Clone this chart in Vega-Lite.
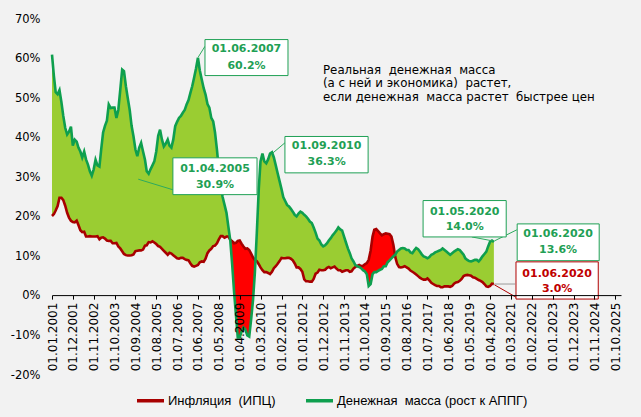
{
  "$schema": "https://vega.github.io/schema/vega-lite/v6.json",
  "width": 569,
  "height": 356,
  "autosize": {"type": "none"},
  "padding": {"left": 52, "top": 19, "right": 20, "bottom": 42},
  "background": "#F2F2F2",
  "config": {
    "view": {"stroke": null},
    "font": "DejaVu Sans",
    "axis": {"labelOverlap": false, "labelFlush": false, "grid": false, "labelColor": "#000000"},
    "axisX": {"labelAngle": -90, "labelFontSize": 12, "tickSize": 4, "tickColor": "#000000", "domainColor": "#000000", "labelPadding": 3},
    "axisY": {"labelFontSize": 11.5, "ticks": false, "domain": false, "labelPadding": 12}
  },
  "datasets": {
    "series": [
      {"date": "2001-01-01", "infl": 20.2, "money": 61.0},
      {"date": "2001-02-01", "infl": 20.7, "money": 55.5},
      {"date": "2001-03-01", "infl": 21.6, "money": 51.5},
      {"date": "2001-04-01", "infl": 22.7, "money": 51.0},
      {"date": "2001-05-01", "infl": 24.8, "money": 52.0},
      {"date": "2001-06-01", "infl": 24.8, "money": 49.0},
      {"date": "2001-07-01", "infl": 24.2, "money": 45.5},
      {"date": "2001-08-01", "infl": 22.8, "money": 42.5},
      {"date": "2001-09-01", "infl": 21.0, "money": 40.8},
      {"date": "2001-10-01", "infl": 19.8, "money": 41.5},
      {"date": "2001-11-01", "infl": 19.0, "money": 42.8},
      {"date": "2001-12-01", "infl": 18.7, "money": 38.0},
      {"date": "2002-01-01", "infl": 18.6, "money": 39.5},
      {"date": "2002-02-01", "infl": 19.0, "money": 39.0},
      {"date": "2002-03-01", "infl": 17.9, "money": 37.5},
      {"date": "2002-04-01", "infl": 16.6, "money": 36.5},
      {"date": "2002-05-01", "infl": 16.1, "money": 35.0},
      {"date": "2002-06-01", "infl": 16.2, "money": 36.5},
      {"date": "2002-07-01", "infl": 15.0, "money": 34.5},
      {"date": "2002-08-01", "infl": 15.0, "money": 33.2},
      {"date": "2002-09-01", "infl": 15.1, "money": 31.5},
      {"date": "2002-10-01", "infl": 15.0, "money": 30.4},
      {"date": "2002-11-01", "infl": 15.0, "money": 32.0},
      {"date": "2002-12-01", "infl": 15.0, "money": 34.4},
      {"date": "2003-01-01", "infl": 15.1, "money": 33.0},
      {"date": "2003-02-01", "infl": 14.3, "money": 32.7},
      {"date": "2003-03-01", "infl": 14.7, "money": 37.0},
      {"date": "2003-04-01", "infl": 14.8, "money": 41.3},
      {"date": "2003-05-01", "infl": 14.5, "money": 43.0},
      {"date": "2003-06-01", "infl": 14.0, "money": 44.3},
      {"date": "2003-07-01", "infl": 13.9, "money": 48.4},
      {"date": "2003-08-01", "infl": 13.9, "money": 47.5},
      {"date": "2003-09-01", "infl": 13.3, "money": 47.6},
      {"date": "2003-10-01", "infl": 13.3, "money": 47.6},
      {"date": "2003-11-01", "infl": 13.4, "money": 45.0},
      {"date": "2003-12-01", "infl": 12.5, "money": 47.0},
      {"date": "2004-01-01", "infl": 12.0, "money": 52.0},
      {"date": "2004-02-01", "infl": 11.3, "money": 57.2},
      {"date": "2004-03-01", "infl": 10.6, "money": 56.8},
      {"date": "2004-04-01", "infl": 10.3, "money": 53.0},
      {"date": "2004-05-01", "infl": 10.2, "money": 50.0},
      {"date": "2004-06-01", "infl": 10.2, "money": 47.0},
      {"date": "2004-07-01", "infl": 10.3, "money": 43.0},
      {"date": "2004-08-01", "infl": 10.5, "money": 40.3},
      {"date": "2004-09-01", "infl": 11.3, "money": 37.0},
      {"date": "2004-10-01", "infl": 11.4, "money": 35.3},
      {"date": "2004-11-01", "infl": 11.5, "money": 37.5},
      {"date": "2004-12-01", "infl": 11.5, "money": 38.7},
      {"date": "2005-01-01", "infl": 11.7, "money": 36.5},
      {"date": "2005-02-01", "infl": 12.7, "money": 34.4},
      {"date": "2005-03-01", "infl": 12.8, "money": 31.5},
      {"date": "2005-04-01", "infl": 13.6, "money": 30.9},
      {"date": "2005-05-01", "infl": 13.5, "money": 32.0},
      {"date": "2005-06-01", "infl": 13.8, "money": 33.0},
      {"date": "2005-07-01", "infl": 13.5, "money": 34.0},
      {"date": "2005-08-01", "infl": 13.1, "money": 36.5},
      {"date": "2005-09-01", "infl": 12.6, "money": 40.5},
      {"date": "2005-10-01", "infl": 12.4, "money": 42.0},
      {"date": "2005-11-01", "infl": 11.9, "money": 39.5},
      {"date": "2005-12-01", "infl": 11.4, "money": 37.8},
      {"date": "2006-01-01", "infl": 10.9, "money": 38.5},
      {"date": "2006-02-01", "infl": 10.4, "money": 39.5},
      {"date": "2006-03-01", "infl": 10.9, "money": 38.0},
      {"date": "2006-04-01", "infl": 10.7, "money": 37.5},
      {"date": "2006-05-01", "infl": 10.3, "money": 39.5},
      {"date": "2006-06-01", "infl": 9.9, "money": 42.9},
      {"date": "2006-07-01", "infl": 9.5, "money": 44.0},
      {"date": "2006-08-01", "infl": 9.4, "money": 45.0},
      {"date": "2006-09-01", "infl": 9.6, "money": 45.5},
      {"date": "2006-10-01", "infl": 9.6, "money": 46.3},
      {"date": "2006-11-01", "infl": 9.3, "money": 47.0},
      {"date": "2006-12-01", "infl": 9.1, "money": 48.4},
      {"date": "2007-01-01", "infl": 9.0, "money": 49.5},
      {"date": "2007-02-01", "infl": 8.2, "money": 51.4},
      {"date": "2007-03-01", "infl": 7.6, "money": 53.0},
      {"date": "2007-04-01", "infl": 7.4, "money": 55.2},
      {"date": "2007-05-01", "infl": 7.6, "money": 57.5},
      {"date": "2007-06-01", "infl": 7.8, "money": 60.2},
      {"date": "2007-07-01", "infl": 8.5, "money": 57.0},
      {"date": "2007-08-01", "infl": 8.7, "money": 54.7},
      {"date": "2007-09-01", "infl": 8.6, "money": 52.5},
      {"date": "2007-10-01", "infl": 9.4, "money": 50.9},
      {"date": "2007-11-01", "infl": 10.8, "money": 48.5},
      {"date": "2007-12-01", "infl": 11.5, "money": 47.6},
      {"date": "2008-01-01", "infl": 11.9, "money": 45.0},
      {"date": "2008-02-01", "infl": 12.6, "money": 44.1},
      {"date": "2008-03-01", "infl": 12.7, "money": 41.3},
      {"date": "2008-04-01", "infl": 13.3, "money": 37.0},
      {"date": "2008-05-01", "infl": 14.3, "money": 32.0},
      {"date": "2008-06-01", "infl": 15.1, "money": 28.0},
      {"date": "2008-07-01", "infl": 15.1, "money": 25.0},
      {"date": "2008-08-01", "infl": 14.7, "money": 23.0},
      {"date": "2008-09-01", "infl": 15.0, "money": 21.0},
      {"date": "2008-10-01", "infl": 15.0, "money": 17.5},
      {"date": "2008-11-01", "infl": 14.2, "money": 14.0},
      {"date": "2008-12-01", "infl": 13.8, "money": 8.0},
      {"date": "2009-01-01", "infl": 13.3, "money": 1.0},
      {"date": "2009-02-01", "infl": 13.4, "money": -5.0},
      {"date": "2009-03-01", "infl": 13.9, "money": -10.5},
      {"date": "2009-04-01", "infl": 14.0, "money": -10.5},
      {"date": "2009-05-01", "infl": 13.2, "money": -9.0},
      {"date": "2009-06-01", "infl": 12.5, "money": -8.0},
      {"date": "2009-07-01", "infl": 11.9, "money": -8.5},
      {"date": "2009-08-01", "infl": 12.0, "money": -10.0},
      {"date": "2009-09-01", "infl": 11.6, "money": -10.3},
      {"date": "2009-10-01", "infl": 10.7, "money": -6.0},
      {"date": "2009-11-01", "infl": 9.7, "money": -1.0},
      {"date": "2009-12-01", "infl": 9.1, "money": 6.0},
      {"date": "2010-01-01", "infl": 8.8, "money": 16.0},
      {"date": "2010-02-01", "infl": 8.0, "money": 27.0},
      {"date": "2010-03-01", "infl": 7.2, "money": 34.0},
      {"date": "2010-04-01", "infl": 6.5, "money": 36.0},
      {"date": "2010-05-01", "infl": 6.0, "money": 34.0},
      {"date": "2010-06-01", "infl": 6.0, "money": 33.5},
      {"date": "2010-07-01", "infl": 5.8, "money": 34.5},
      {"date": "2010-08-01", "infl": 5.5, "money": 36.0},
      {"date": "2010-09-01", "infl": 6.1, "money": 36.3},
      {"date": "2010-10-01", "infl": 7.0, "money": 35.0},
      {"date": "2010-11-01", "infl": 7.5, "money": 33.0},
      {"date": "2010-12-01", "infl": 8.1, "money": 31.0},
      {"date": "2011-01-01", "infl": 8.8, "money": 29.0},
      {"date": "2011-02-01", "infl": 9.6, "money": 27.0},
      {"date": "2011-03-01", "infl": 9.5, "money": 25.0},
      {"date": "2011-04-01", "infl": 9.5, "money": 24.0},
      {"date": "2011-05-01", "infl": 9.6, "money": 23.0},
      {"date": "2011-06-01", "infl": 9.6, "money": 22.6},
      {"date": "2011-07-01", "infl": 9.4, "money": 22.0},
      {"date": "2011-08-01", "infl": 9.0, "money": 21.3},
      {"date": "2011-09-01", "infl": 8.2, "money": 20.5},
      {"date": "2011-10-01", "infl": 7.2, "money": 20.1},
      {"date": "2011-11-01", "infl": 7.2, "money": 20.8},
      {"date": "2011-12-01", "infl": 6.8, "money": 21.3},
      {"date": "2012-01-01", "infl": 6.1, "money": 21.0},
      {"date": "2012-02-01", "infl": 4.2, "money": 20.5},
      {"date": "2012-03-01", "infl": 3.7, "money": 20.1},
      {"date": "2012-04-01", "infl": 3.7, "money": 19.5},
      {"date": "2012-05-01", "infl": 3.6, "money": 18.8},
      {"date": "2012-06-01", "infl": 3.6, "money": 18.4},
      {"date": "2012-07-01", "infl": 4.3, "money": 17.3},
      {"date": "2012-08-01", "infl": 5.6, "money": 16.0},
      {"date": "2012-09-01", "infl": 5.9, "money": 14.5},
      {"date": "2012-10-01", "infl": 6.6, "money": 14.0},
      {"date": "2012-11-01", "infl": 6.5, "money": 13.0},
      {"date": "2012-12-01", "infl": 6.5, "money": 12.5},
      {"date": "2013-01-01", "infl": 6.6, "money": 12.8},
      {"date": "2013-02-01", "infl": 7.1, "money": 13.3},
      {"date": "2013-03-01", "infl": 7.3, "money": 14.0},
      {"date": "2013-04-01", "infl": 7.0, "money": 14.6},
      {"date": "2013-05-01", "infl": 7.2, "money": 15.3},
      {"date": "2013-06-01", "infl": 7.4, "money": 15.9},
      {"date": "2013-07-01", "infl": 6.9, "money": 16.5},
      {"date": "2013-08-01", "infl": 6.5, "money": 17.3},
      {"date": "2013-09-01", "infl": 6.5, "money": 16.8},
      {"date": "2013-10-01", "infl": 6.1, "money": 16.5},
      {"date": "2013-11-01", "infl": 6.3, "money": 15.0},
      {"date": "2013-12-01", "infl": 6.5, "money": 13.5},
      {"date": "2014-01-01", "infl": 6.5, "money": 12.0},
      {"date": "2014-02-01", "infl": 6.1, "money": 10.8},
      {"date": "2014-03-01", "infl": 6.2, "money": 9.5},
      {"date": "2014-04-01", "infl": 6.9, "money": 8.7},
      {"date": "2014-05-01", "infl": 7.3, "money": 7.8},
      {"date": "2014-06-01", "infl": 7.6, "money": 7.5},
      {"date": "2014-07-01", "infl": 7.8, "money": 7.3},
      {"date": "2014-08-01", "infl": 7.5, "money": 7.0},
      {"date": "2014-09-01", "infl": 7.6, "money": 6.5},
      {"date": "2014-10-01", "infl": 8.0, "money": 6.2},
      {"date": "2014-11-01", "infl": 8.3, "money": 5.5},
      {"date": "2014-12-01", "infl": 9.1, "money": 2.5},
      {"date": "2015-01-01", "infl": 11.4, "money": 3.0},
      {"date": "2015-02-01", "infl": 15.0, "money": 5.5},
      {"date": "2015-03-01", "infl": 16.7, "money": 6.0},
      {"date": "2015-04-01", "infl": 16.9, "money": 6.0},
      {"date": "2015-05-01", "infl": 16.4, "money": 6.3},
      {"date": "2015-06-01", "infl": 15.8, "money": 6.6},
      {"date": "2015-07-01", "infl": 15.3, "money": 6.8},
      {"date": "2015-08-01", "infl": 15.6, "money": 7.5},
      {"date": "2015-09-01", "infl": 15.8, "money": 7.5},
      {"date": "2015-10-01", "infl": 15.7, "money": 8.5},
      {"date": "2015-11-01", "infl": 15.6, "money": 9.0},
      {"date": "2015-12-01", "infl": 15.0, "money": 9.5},
      {"date": "2016-01-01", "infl": 12.9, "money": 10.0},
      {"date": "2016-02-01", "infl": 9.8, "money": 10.4},
      {"date": "2016-03-01", "infl": 8.1, "money": 11.2},
      {"date": "2016-04-01", "infl": 7.3, "money": 11.6},
      {"date": "2016-05-01", "infl": 7.2, "money": 12.0},
      {"date": "2016-06-01", "infl": 7.3, "money": 12.1},
      {"date": "2016-07-01", "infl": 7.5, "money": 12.0},
      {"date": "2016-08-01", "infl": 7.2, "money": 11.6},
      {"date": "2016-09-01", "infl": 6.9, "money": 11.6},
      {"date": "2016-10-01", "infl": 6.4, "money": 11.0},
      {"date": "2016-11-01", "infl": 6.1, "money": 10.8},
      {"date": "2016-12-01", "infl": 5.8, "money": 11.5},
      {"date": "2017-01-01", "infl": 5.4, "money": 12.1},
      {"date": "2017-02-01", "infl": 5.0, "money": 11.8},
      {"date": "2017-03-01", "infl": 4.6, "money": 11.2},
      {"date": "2017-04-01", "infl": 4.3, "money": 10.5},
      {"date": "2017-05-01", "infl": 4.1, "money": 10.0},
      {"date": "2017-06-01", "infl": 4.1, "money": 9.8},
      {"date": "2017-07-01", "infl": 4.4, "money": 9.5},
      {"date": "2017-08-01", "infl": 3.9, "money": 9.8},
      {"date": "2017-09-01", "infl": 3.3, "money": 10.4},
      {"date": "2017-10-01", "infl": 3.0, "money": 10.6},
      {"date": "2017-11-01", "infl": 2.7, "money": 11.0},
      {"date": "2017-12-01", "infl": 2.5, "money": 11.2},
      {"date": "2018-01-01", "infl": 2.5, "money": 11.4},
      {"date": "2018-02-01", "infl": 2.2, "money": 11.6},
      {"date": "2018-03-01", "infl": 2.2, "money": 12.0},
      {"date": "2018-04-01", "infl": 2.4, "money": 11.6},
      {"date": "2018-05-01", "infl": 2.4, "money": 11.2},
      {"date": "2018-06-01", "infl": 2.4, "money": 10.8},
      {"date": "2018-07-01", "infl": 2.3, "money": 10.4},
      {"date": "2018-08-01", "infl": 2.5, "money": 10.8},
      {"date": "2018-09-01", "infl": 3.1, "money": 11.2},
      {"date": "2018-10-01", "infl": 3.4, "money": 11.5},
      {"date": "2018-11-01", "infl": 3.5, "money": 11.8},
      {"date": "2018-12-01", "infl": 3.8, "money": 11.6},
      {"date": "2019-01-01", "infl": 4.3, "money": 11.0},
      {"date": "2019-02-01", "infl": 5.0, "money": 10.4},
      {"date": "2019-03-01", "infl": 5.2, "money": 9.5},
      {"date": "2019-04-01", "infl": 5.3, "money": 9.1},
      {"date": "2019-05-01", "infl": 5.2, "money": 8.8},
      {"date": "2019-06-01", "infl": 5.1, "money": 8.7},
      {"date": "2019-07-01", "infl": 4.7, "money": 8.9},
      {"date": "2019-08-01", "infl": 4.6, "money": 9.1},
      {"date": "2019-09-01", "infl": 4.3, "money": 9.1},
      {"date": "2019-10-01", "infl": 4.0, "money": 8.7},
      {"date": "2019-11-01", "infl": 3.8, "money": 9.3},
      {"date": "2019-12-01", "infl": 3.5, "money": 10.0},
      {"date": "2020-01-01", "infl": 3.0, "money": 10.6},
      {"date": "2020-02-01", "infl": 2.4, "money": 11.2},
      {"date": "2020-03-01", "infl": 2.3, "money": 12.5},
      {"date": "2020-04-01", "infl": 2.5, "money": 13.7},
      {"date": "2020-05-01", "infl": 3.1, "money": 14.0},
      {"date": "2020-06-01", "infl": 3.0, "money": 13.6}
    ],
    "boxes": [
      {"d1": "2007-09-22", "d2": "2011-05-16", "v1": 64.8, "v2": 55.7, "kind": "money"},
      {"d1": "2006-04-25", "d2": "2010-01-04", "v1": 34.9, "v2": 25.6, "kind": "money"},
      {"d1": "2011-03-28", "d2": "2014-11-22", "v1": 40.3, "v2": 31.1, "kind": "money"},
      {"d1": "2017-04-22", "d2": "2020-12-16", "v1": 24.1, "v2": 14.9, "kind": "money"},
      {"d1": "2021-06-10", "d2": "2025-01-16", "v1": 18.2, "v2": 8.9, "kind": "money"},
      {"d1": "2021-05-22", "d2": "2025-01-01", "v1": 8.6, "v2": -0.8, "kind": "infl"}
    ],
    "leaders": [
      {"d1": "2007-06-07", "d2": "2007-09-22", "v1": 60.4, "v2": 63.1, "kind": "money"},
      {"d1": "2004-10-16", "d2": "2006-05-01", "v1": 29.5, "v2": 26.8, "kind": "money"},
      {"d1": "2010-09-13", "d2": "2011-03-28", "v1": 36.1, "v2": 38.7, "kind": "money"},
      {"d1": "2019-06-13", "d2": "2020-05-13", "v1": 14.9, "v2": 13.9, "kind": "money"},
      {"d1": "2020-06-10", "d2": "2021-06-04", "v1": 13.9, "v2": 16.7, "kind": "money"},
      {"d1": "2020-06-10", "d2": "2021-05-07", "v1": 3.0, "v2": 3.0, "kind": "grey"},
      {"d1": "2020-06-10", "d2": "2021-06-10", "v1": 2.8, "v2": -0.5, "kind": "infl"}
    ],
    "labels": [
      {"date": "2009-07-19", "v": 62.3, "text": "01.06.2007", "kind": "money"},
      {"date": "2009-07-19", "v": 58.1, "text": "60.2%", "kind": "money"},
      {"date": "2008-03-01", "v": 32.1, "text": "01.04.2005", "kind": "money"},
      {"date": "2008-03-01", "v": 28.1, "text": "30.9%", "kind": "money"},
      {"date": "2013-01-25", "v": 37.8, "text": "01.09.2010", "kind": "money"},
      {"date": "2013-01-25", "v": 33.8, "text": "36.3%", "kind": "money"},
      {"date": "2019-02-19", "v": 21.3, "text": "01.05.2020", "kind": "money"},
      {"date": "2019-02-19", "v": 17.3, "text": "14.0%", "kind": "money"},
      {"date": "2023-03-28", "v": 15.6, "text": "01.06.2020", "kind": "money"},
      {"date": "2023-03-28", "v": 11.6, "text": "13.6%", "kind": "money"},
      {"date": "2023-03-13", "v": 5.6, "text": "01.06.2020", "kind": "infl"},
      {"date": "2023-03-13", "v": 1.7, "text": "3.0%", "kind": "infl"}
    ],
    "note": [
      {"date": "2012-11-28", "v": 57.0, "text": "Реальная\u00a0 денежная\u00a0 масса"},
      {"date": "2012-11-28", "v": 53.8, "text": "(а с ней и экономика)\u00a0 растет,"},
      {"date": "2012-11-28", "v": 50.4, "text": "если денежная\u00a0 масса растет\u00a0 быстрее цен"}
    ]
  },
  "layer": [
    {
      "data": {"name": "series"},
      "transform": [
        {"fold": ["infl", "money"], "as": ["key", "val"]},
        {"joinaggregate": [{"op": "max", "field": "val", "as": "top"}], "groupby": ["date"]},
        {"filter": "datum.key === 'infl'"}
      ],
      "mark": {"type": "area", "color": "#9ACD32", "opacity": 1},
      "encoding": {
        "x": {
          "field": "date",
          "type": "temporal",
          "title": null,
          "scale": {
            "type": "utc",
            "domain": [
              {"year": 2001, "month": 1, "date": 1, "utc": true},
              {"year": 2026, "month": 1, "date": 1, "utc": true}
            ]
          },
          "axis": {
            "values": [
              {"year": 2001, "month": 1, "date": 1, "utc": true},
              {"year": 2001, "month": 12, "date": 1, "utc": true},
              {"year": 2002, "month": 11, "date": 1, "utc": true},
              {"year": 2003, "month": 10, "date": 1, "utc": true},
              {"year": 2004, "month": 9, "date": 1, "utc": true},
              {"year": 2005, "month": 8, "date": 1, "utc": true},
              {"year": 2006, "month": 7, "date": 1, "utc": true},
              {"year": 2007, "month": 6, "date": 1, "utc": true},
              {"year": 2008, "month": 5, "date": 1, "utc": true},
              {"year": 2009, "month": 4, "date": 1, "utc": true},
              {"year": 2010, "month": 3, "date": 1, "utc": true},
              {"year": 2011, "month": 2, "date": 1, "utc": true},
              {"year": 2012, "month": 1, "date": 1, "utc": true},
              {"year": 2012, "month": 12, "date": 1, "utc": true},
              {"year": 2013, "month": 11, "date": 1, "utc": true},
              {"year": 2014, "month": 10, "date": 1, "utc": true},
              {"year": 2015, "month": 9, "date": 1, "utc": true},
              {"year": 2016, "month": 8, "date": 1, "utc": true},
              {"year": 2017, "month": 7, "date": 1, "utc": true},
              {"year": 2018, "month": 6, "date": 1, "utc": true},
              {"year": 2019, "month": 5, "date": 1, "utc": true},
              {"year": 2020, "month": 4, "date": 1, "utc": true},
              {"year": 2021, "month": 3, "date": 1, "utc": true},
              {"year": 2022, "month": 2, "date": 1, "utc": true},
              {"year": 2023, "month": 1, "date": 1, "utc": true},
              {"year": 2023, "month": 12, "date": 1, "utc": true},
              {"year": 2024, "month": 11, "date": 1, "utc": true},
              {"year": 2025, "month": 10, "date": 1, "utc": true}
            ],
            "tickCount": 100,
            "labelExpr": "utcFormat(datum.value, '%d.%m.%Y')",
            "labelOverlap": false,
            "labelBound": false,
            "offset": -79.9,
            "zindex": 1
          }
        },
        "y": {
          "field": "top",
          "type": "quantitative",
          "title": null,
          "scale": {"domain": [-20, 70], "nice": false, "zero": false},
          "axis": {
            "values": [-20, -10, 0, 10, 20, 30, 40, 50, 60, 70],
            "tickCount": 100,
            "labelExpr": "datum.value + '%'",
            "labelOverlap": false
          }
        },
        "y2": {"field": "val"}
      }
    },
    {
      "data": {"name": "series"},
      "transform": [
        {"fold": ["infl", "money"], "as": ["key", "val"]},
        {"joinaggregate": [{"op": "max", "field": "val", "as": "top"}], "groupby": ["date"]},
        {"filter": "datum.key === 'money'"}
      ],
      "mark": {"type": "area", "color": "#FF0000", "opacity": 1},
      "encoding": {
        "x": {"field": "date", "type": "temporal", "title": null},
        "y": {"field": "top", "type": "quantitative", "title": null},
        "y2": {"field": "val"}
      }
    },
    {
      "data": {"name": "series"},
      "transform": [{"fold": ["infl", "money"], "as": ["key", "val"]}],
      "mark": {"type": "line", "strokeWidth": 2.6},
      "encoding": {
        "x": {"field": "date", "type": "temporal", "title": null},
        "y": {"field": "val", "type": "quantitative", "title": null},
        "color": {
          "field": "key",
          "type": "nominal",
          "scale": {"domain": ["infl", "money"], "range": ["#A80000", "#0E9F4E"]},
          "legend": {
            "title": null,
            "orient": "none",
            "direction": "horizontal",
            "legendX": 83,
            "legendY": 366,
            "symbolType": "stroke",
            "symbolSize": 729,
            "symbolStrokeWidth": 3.5,
            "labelFont": "Liberation Sans",
            "labelFontSize": 13,
            "labelColor": "#000000",
            "labelOffset": 2,
            "labelLimit": 400,
            "columnPadding": 23,
            "labelExpr": "datum.label === 'infl' ? 'Инфляция\u00a0 (ИПЦ)' : 'Денежная\u00a0 масса (рост к АППГ)'"
          }
        }
      }
    },
    {
      "data": {"name": "leaders"},
      "mark": {"type": "rule", "strokeWidth": 1},
      "encoding": {
        "x": {"field": "d1", "type": "temporal", "title": null},
        "x2": {"field": "d2"},
        "y": {"field": "v1", "type": "quantitative", "title": null},
        "y2": {"field": "v2"},
        "color": {
          "condition": [
            {"test": "datum.kind === 'infl'", "value": "#B00000"},
            {"test": "datum.kind === 'grey'", "value": "#999999"}
          ],
          "value": "#2DAA5E"
        }
      }
    },
    {
      "data": {"name": "boxes"},
      "mark": {"type": "rect", "fill": "#FFFFFF", "strokeWidth": 1},
      "encoding": {
        "x": {"field": "d1", "type": "temporal", "title": null},
        "x2": {"field": "d2"},
        "y": {"field": "v1", "type": "quantitative", "title": null},
        "y2": {"field": "v2"},
        "stroke": {
          "condition": {"test": "datum.kind === 'infl'", "value": "#B00000"},
          "value": "#1FA055"
        }
      }
    },
    {
      "data": {"name": "labels"},
      "mark": {"type": "text", "font": "DejaVu Sans", "fontSize": 11, "fontWeight": "bold", "align": "center", "baseline": "middle"},
      "encoding": {
        "x": {"field": "date", "type": "temporal", "title": null},
        "y": {"field": "v", "type": "quantitative", "title": null},
        "text": {"field": "text"},
        "color": {
          "condition": {"test": "datum.kind === 'infl'", "value": "#C00000"},
          "value": "#1FA055"
        }
      }
    },
    {
      "data": {"name": "note"},
      "mark": {"type": "text", "font": "DejaVu Sans", "fontSize": 11.8, "align": "left", "baseline": "middle", "color": "#000000"},
      "encoding": {
        "x": {"field": "date", "type": "temporal", "title": null},
        "y": {"field": "v", "type": "quantitative", "title": null},
        "text": {"field": "text"}
      }
    }
  ]
}
